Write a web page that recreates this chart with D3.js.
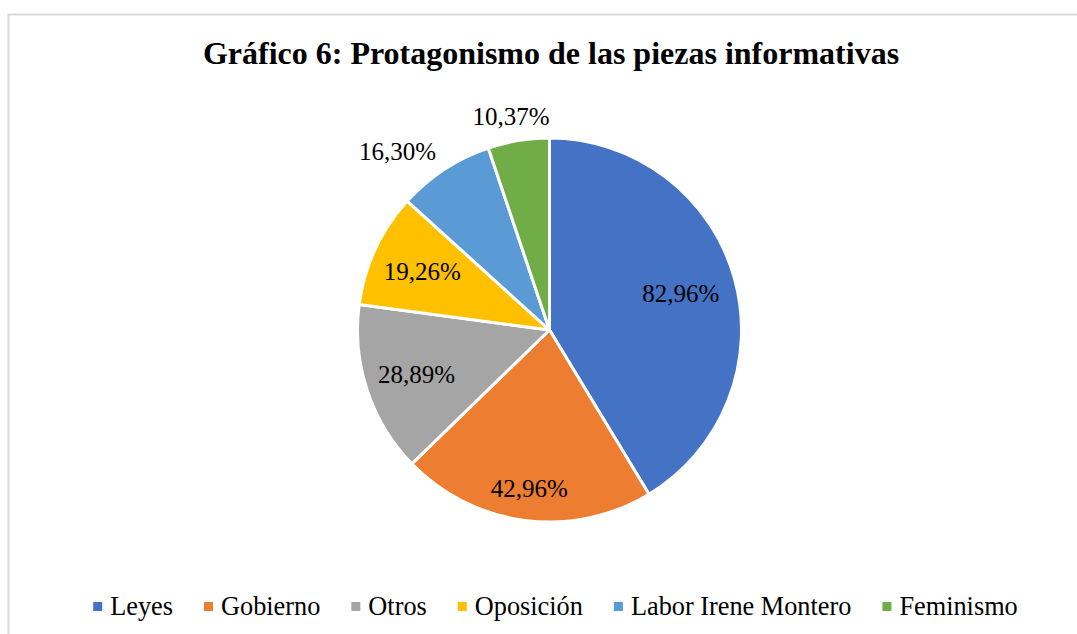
<!DOCTYPE html>
<html>
<head>
<meta charset="utf-8">
<script src="https://cdn.jsdelivr.net/npm/d3@7"></script>
<style>
  body { margin: 0; background: #fff; }
  svg { display: block; }
</style>
</head>
<body>
<div id="chart"></div>
<script>
const categories = ['Leyes', 'Gobierno', 'Otros', 'Oposición', 'Labor Irene Montero', 'Feminismo'];
const values = [82.96, 42.96, 28.89, 19.26, 16.30, 10.37];
const labels = ['82,96%', '42,96%', '28,89%', '19,26%', '16,30%', '10,37%'];
const colors = ['#4472C4', '#ED7D31', '#A5A5A5', '#FFC000', '#5B9BD5', '#70AD47'];

// where each label goes (inside factor of radius, or outside)
const labelPlace = [0.71, 0.83, 0.73, 0.73, 'out', 'out'];

const W = 1077, H = 634;
const cx = 549.5, cy = 330, R = 192;
const FONT = '"Times New Roman", Times, "Liberation Serif", "DejaVu Serif", serif';

const svg = d3.select('#chart').append('svg')
  .attr('width', W)
  .attr('height', H)
  .style('font-family', FONT);

// frame (runs off right and bottom like the screenshot)
svg.append('rect')
  .attr('x', 8.5).attr('y', 14.5)
  .attr('width', 1200).attr('height', 800)
  .attr('fill', 'none')
  .attr('stroke', '#d9d9d9')
  .attr('stroke-width', 2);

svg.append('text')
  .attr('x', 551).attr('y', 64)
  .attr('text-anchor', 'middle')
  .attr('font-family', FONT)
  .attr('font-weight', 'bold')
  .attr('font-size', 32)
  .text('Gráfico 6: Protagonismo de las piezas informativas');

const pie = d3.pie().sort(null).value((d) => d);
const arcs = pie(values);
const arc = d3.arc().innerRadius(0).outerRadius(R);

const g = svg.append('g').attr('transform', `translate(${cx},${cy})`);

g.selectAll('path')
  .data(arcs)
  .enter()
  .append('path')
  .attr('d', arc)
  .attr('fill', (d, i) => colors[i])
  .attr('stroke', '#fff')
  .attr('stroke-width', 3)
  .attr('stroke-linejoin', 'round');

// labels
const lab = g.selectAll('text.lbl')
  .data(arcs)
  .enter()
  .append('text')
  .attr('class', 'lbl')
  .attr('text-anchor', 'middle')
  .attr('dy', '0.35em')
  .attr('font-family', FONT)
  .attr('font-size', 25)
  .text((d, i) => labels[i]);

lab.each(function (d, i) {
  const mid = (d.startAngle + d.endAngle) / 2;
  const ux = Math.sin(mid), uy = -Math.cos(mid);
  const el = d3.select(this);
  if (labelPlace[i] !== 'out') {
    const r = R * labelPlace[i];
    el.attr('x', ux * r).attr('y', uy * r);
  } else {
    const w = this.getComputedTextLength(), h = 22;
    const ax = ux * (R + 8), ay = uy * (R + 8);
    let x, y;
    if (Math.abs(ux) < 0.3) {
      x = ax + ux * w / 2;
      y = ay + uy * h / 2 - 6;
    } else {
      x = ax + Math.sign(ux) * w / 2 - 4;
      y = ay + Math.sign(uy) * h / 2;
    }
    el.attr('x', x).attr('y', y);
  }
});

// legend
const legend = svg.append('g');
const items = legend.selectAll('g')
  .data(categories)
  .enter()
  .append('g');

items.append('rect')
  .attr('width', 9).attr('height', 9)
  .attr('y', 602)
  .attr('fill', (d, i) => colors[i]);

items.append('text')
  .attr('y', 615)
  .attr('font-family', FONT)
  .attr('font-size', 26.3)
  .text((d) => d);

let widths = [];
items.select('text').each(function () { widths.push(this.getComputedTextLength()); });
const itemW = widths.map((w) => 9 + 8 + w);
const total = d3.sum(itemW) + 31 * (itemW.length - 1);
let pos = 555.5 - total / 2;
items.each(function (d, i) {
  d3.select(this).select('rect').attr('x', pos);
  d3.select(this).select('text').attr('x', pos + 17);
  pos += itemW[i] + 31;
});
</script>
</body>
</html>
